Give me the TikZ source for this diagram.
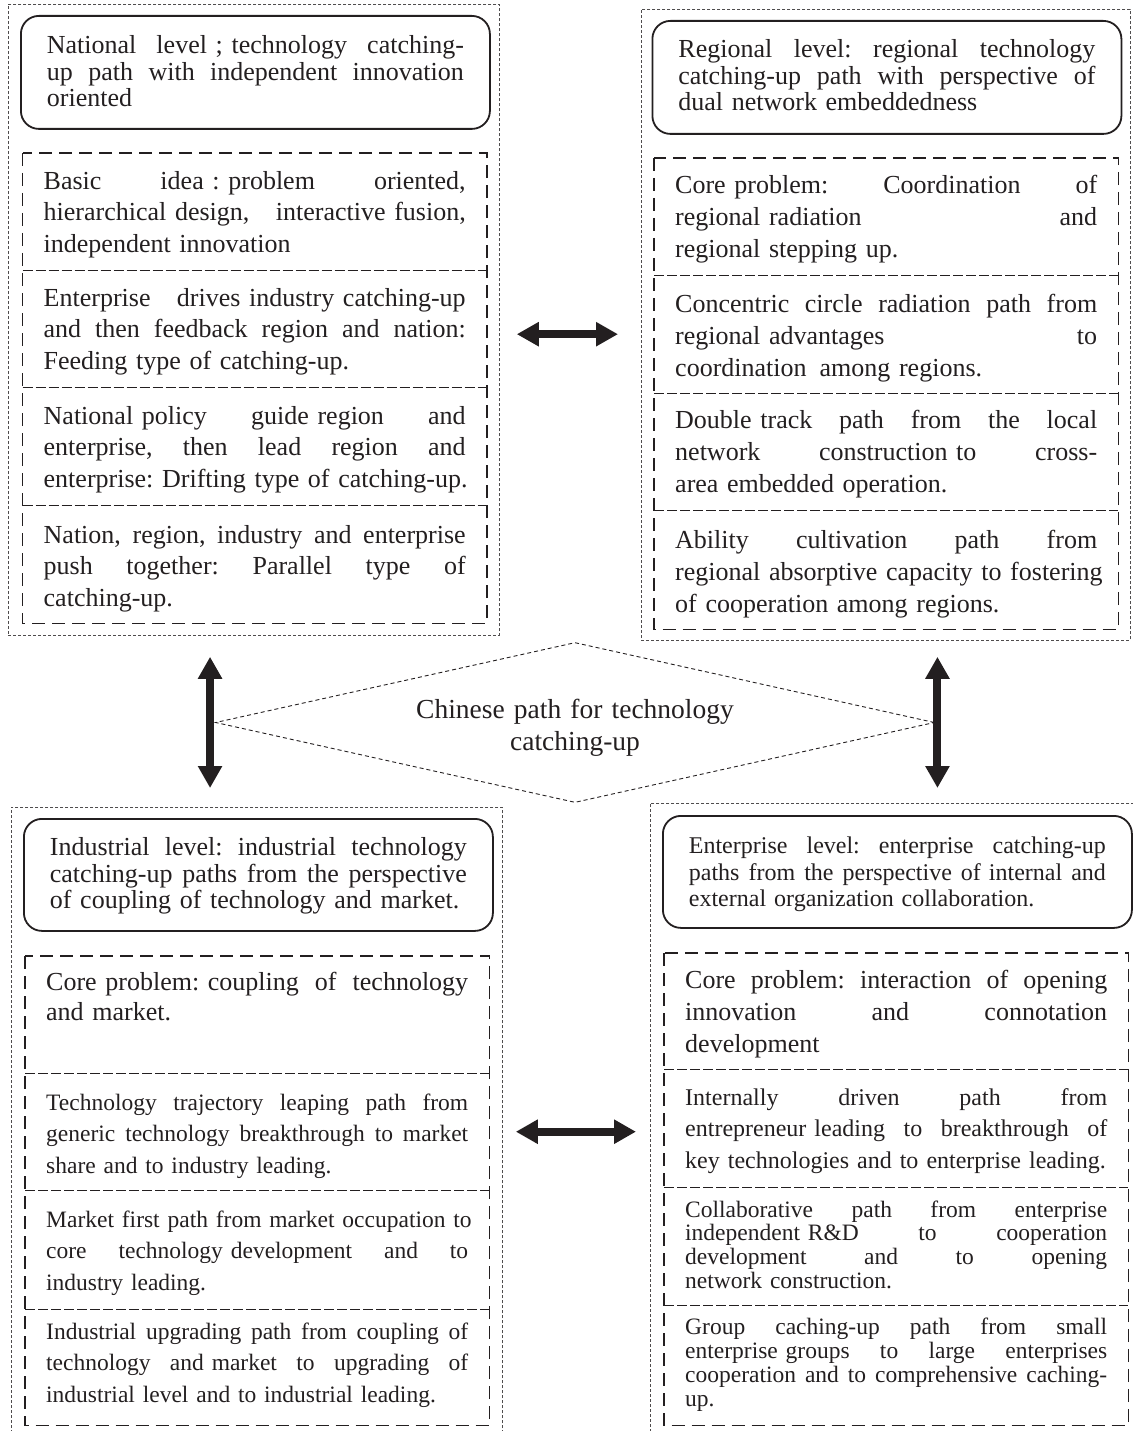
\documentclass[tikz,border=0pt]{standalone}
\usepackage{fontspec}
\setmainfont{Liberation Serif}
\usetikzlibrary{arrows.meta,shapes.geometric,calc}

\definecolor{ink}{RGB}{35,31,32}

% one fully justified line of a box; \gp marks a word space that may widen
\newcommand\jl[1]{\hbox to\hsize{#1}\par}
\newcommand\gp{\ \hfill}
\newcommand\fs{\hspace{0.25em}}

% type sizes
\newcommand\ftitle{\fontsize{26pt}{26.5pt}\selectfont\frenchspacing}
\newcommand\ftitlesm{\fontsize{24pt}{26.5pt}\selectfont\frenchspacing}
\newcommand\fbody{\fontsize{26pt}{31.7pt}\selectfont\frenchspacing}
\newcommand\fbodyr{\fontsize{26pt}{32pt}\selectfont\frenchspacing}
\newcommand\fbodyi{\fontsize{26pt}{30.5pt}\selectfont\frenchspacing}
\newcommand\fbodysm{\fontsize{23.5pt}{31.5pt}\selectfont\frenchspacing}
\newcommand\fbodyent{\fontsize{24pt}{31.5pt}\selectfont\frenchspacing}
\newcommand\fbodytight{\fontsize{23.5pt}{23.7pt}\selectfont\frenchspacing}
\newcommand\fbodytightb{\fontsize{23.5pt}{24pt}\selectfont\frenchspacing}
\newcommand\fhub{\fontsize{27.5pt}{32pt}\selectfont\frenchspacing}

\tikzset{
  outerbox/.style={rectangle, draw=ink!80, line width=0.8pt, dash pattern=on 3pt off 2pt,
    anchor=north west, inner sep=0pt},
  titlebox/.style={rectangle, draw=ink, line width=1.8pt, rounded corners=18pt,
    anchor=north west, inner xsep=26pt, inner ysep=0pt, text width=417pt,
    align=left, text=ink},
  secbox/.style={rectangle, anchor=north west, inner xsep=21pt, inner ysep=0pt,
    text width=422pt, align=left, text=ink},
  stackframe/.style={draw=ink, line width=1.8pt, dash pattern=on 13pt off 7pt},
  sepline/.style={draw=ink, line width=1.7pt, dash pattern=on 10pt off 3pt},
  hub/.style={diamond, draw=ink, line width=0.9pt, dash pattern=on 4pt off 3pt,
    aspect=4.5, minimum width=719pt, minimum height=160pt, inner sep=0pt,
    text width=340pt, align=center, text=ink},
  linkarrow/.style={draw=ink, line width=8pt,
    {Triangle[length=22pt,width=23pt]}-{Triangle[length=22pt,width=23pt]}}
}

\begin{document}
\begin{tikzpicture}[x=1pt, y=-1pt]
\useasboundingbox (0,0) rectangle (1132,1431);

% ---------- outer frames of the four levels ----------
\node[outerbox, minimum width=491pt, minimum height=631pt] (TLout) at (8,4) {};
\node[outerbox, minimum width=489pt, minimum height=631pt] (TRout) at (641,9) {};
\node[outerbox, minimum width=491pt, minimum height=640pt] (BLout) at (11,807) {};
\node[outerbox, minimum width=495pt, minimum height=644pt] (BRout) at (650,803) {};

% ---------- national level ----------
\node[titlebox, font=\ftitle, text height=38pt, text depth=75pt] (TLt) at (20,15)
  {\jl{National\gp level ; technology\gp catching-}\jl{up\gp path\gp with\gp independent\gp innovation}oriented};
\node[secbox, font=\fbody, text height=36pt, text depth=81pt] (TLs1) at (22.5,153)
  {\jl{Basic\gp idea : problem\gp oriented,}\jl{hierarchical design,\gp interactive fusion,}independent innovation};
\node[secbox, font=\fbody, text height=36pt, text depth=81pt] (TLs2) at (22.5,270)
  {\jl{Enterprise\gp drives industry catching-up}\jl{and\gp then\gp feedback\gp region\gp and\gp nation:}Feeding type of catching-up.};
\node[secbox, font=\fbody, text height=37pt, text depth=81pt] (TLs3) at (22.5,387)
  {\jl{National policy\gp guide region\gp and}\jl{enterprise,\gp then\gp lead\gp region\gp and}\mbox{enterprise: Drifting type of catching-up.}};
\node[secbox, font=\fbody, text height=38pt, text depth=80pt] (TLs4) at (22.5,505)
  {\jl{Nation,\gp region,\gp industry\gp and\gp enterprise}\jl{push\gp together:\gp Parallel\gp type\gp of}catching-up.};
\draw[stackframe] (TLs1.north west) rectangle (TLs4.south east);
\foreach \s in {TLs1,TLs2,TLs3} \draw[sepline] (\s.south west) -- (\s.south east);

% ---------- regional level ----------
\node[titlebox, font=\ftitle, text height=37pt, text depth=76pt] (TRt) at (651.5,20)
  {\jl{Regional\gp level:\gp regional\gp technology}\jl{catching-up\gp path\gp with\gp perspective\gp of}dual network embeddedness};
\node[secbox, font=\fbodyr, text height=35pt, text depth=82pt] (TRs1) at (654,158)
  {\jl{Core problem:\gp Coordination\gp of}\jl{regional radiation\gp and}regional stepping up.};
\node[secbox, font=\fbodyr, text height=37pt, text depth=81pt] (TRs2) at (654,275)
  {\jl{Concentric\gp circle\gp radiation\gp path\gp from}\jl{regional advantages\gp to}coordination\fs\fs among regions.};
\node[secbox, font=\fbodyr, text height=35pt, text depth=82pt] (TRs3) at (654,393)
  {\jl{Double track\gp path\gp from\gp the\gp local}\jl{network\gp construction to\gp cross-}area embedded operation.};
\node[secbox, font=\fbodyr, text height=38pt, text depth=81pt] (TRs4) at (654,510)
  {\jl{Ability\gp cultivation\gp path\gp from}\jl{regional absorptive\gp capacity to fostering}of cooperation among regions.};
\draw[stackframe] (TRs1.north west) rectangle (TRs4.south east);
\foreach \s in {TRs1,TRs2,TRs3} \draw[sepline] (\s.south west) -- (\s.south east);

% ---------- industrial level ----------
\node[titlebox, font=\ftitle, text height=37pt, text depth=75pt] (BLt) at (23,818)
  {\jl{Industrial\gp level:\gp industrial\gp technology}\jl{catching-up\gp paths\gp from\gp the\gp perspective}of coupling of technology and market.};
\node[secbox, font=\fbodyi, text height=34pt, text depth=83pt] (BLs1) at (25,956)
  {\jl{Core problem: coupling\gp of\gp technology}and market.};
\node[secbox, font=\fbodysm, text height=37pt, text depth=80pt] (BLs2) at (25,1073)
  {\jl{Technology\gp trajectory\gp leaping\gp path\gp from}\jl{generic\gp technology\gp breakthrough\gp to\gp market}share and to industry leading.};
\node[secbox, font=\fbodysm, text height=37pt, text depth=82pt] (BLs3) at (25,1190)
  {\jl{Market\gp first\gp path\gp from\gp market\gp occupation\gp to}\jl{core\gp technology development\gp and\gp to}industry leading.};
\node[secbox, font=\fbodysm, text height=30pt, text depth=86pt] (BLs4) at (25,1309)
  {\jl{Industrial\gp upgrading\gp path\gp from\gp coupling\gp of}\jl{technology\gp and market\gp to\gp upgrading\gp of}industrial level and to industrial leading.};
\draw[stackframe] (BLs1.north west) rectangle (BLs4.south east);
\foreach \s in {BLs1,BLs2,BLs3} \draw[sepline] (\s.south west) -- (\s.south east);

% ---------- enterprise level ----------
\node[titlebox, font=\ftitlesm, text height=38pt, text depth=74pt] (BRt) at (662,815)
  {\jl{Enterprise\gp level:\gp enterprise\gp catching-up}\jl{paths\gp from\gp the\gp perspective\gp of internal\gp and}external organization collaboration.};
\node[secbox, font=\fbodyr, text height=35pt, text depth=81pt] (BRs1) at (664,953)
  {\jl{Core\gp problem:\gp interaction\gp of\gp opening}\jl{innovation\gp and\gp connotation}development};
\node[secbox, font=\fbodyent, text height=36pt, text depth=82pt] (BRs2) at (664,1069)
  {\jl{Internally\gp driven\gp path\gp from}\jl{entrepreneur leading\gp to\gp breakthrough\gp of}key technologies and to enterprise leading.};
\node[secbox, font=\fbodytight, text height=30pt, text depth=88pt] (BRs3) at (664,1187)
  {\jl{Collaborative\gp path\gp from\gp enterprise}\jl{independent R\&D\gp to\gp cooperation}\jl{development\gp and\gp to\gp opening}network construction.};
\node[secbox, font=\fbodytightb, text height=29pt, text depth=91pt] (BRs4) at (664,1305)
  {\jl{Group\gp caching-up\gp path\gp from\gp small}\jl{enterprise groups\gp to\gp large\gp enterprises}\jl{cooperation\gp and\gp to\gp comprehensive\gp caching-}up.};
\draw[stackframe] (BRs1.north west) rectangle (BRs4.south east);
\foreach \s in {BRs1,BRs2,BRs3} \draw[sepline] (\s.south west) -- (\s.south east);

% ---------- centre ----------
\node[hub, font=\fhub, text height=24pt, text depth=33pt] (D) at (575,722.5)
  {Chinese path for technology\\catching-up};

% ---------- links between levels ----------
\draw[linkarrow, shorten <=17pt, shorten >=23pt]
  (TLout.east |- TRs2.center) -- (TRout.west |- TRs2.center);
\draw[linkarrow, shorten <=13pt, shorten >=14pt]
  (BLout.east |- BLs2.center) -- (BRout.west |- BLs2.center);
\draw[linkarrow, shorten <=21pt, shorten >=19pt]
  ($(D.west |- TLout.south)+(-5,0)$) -- ($(D.west |- BLout.north)+(-5,0)$);
\draw[linkarrow, shorten <=16pt, shorten >=15pt]
  ($(D.east |- TRout.south)+(2.5,0)$) -- ($(D.east |- BRout.north)+(2.5,0)$);
\end{tikzpicture}
\end{document}
